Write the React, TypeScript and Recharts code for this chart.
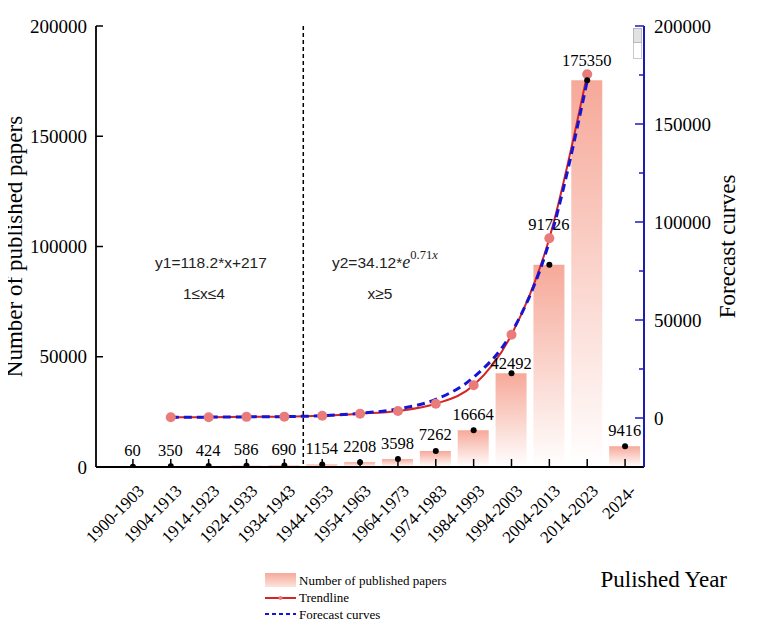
import React from 'react';
import { ComposedChart, Bar, Line, XAxis, YAxis, ReferenceLine, LabelList, Legend } from 'recharts';

const periods = ['1900-1903', '1904-1913', '1914-1923', '1924-1933', '1934-1943', '1944-1953', '1954-1963', '1964-1973', '1974-1983', '1984-1993', '1994-2003', '2004-2013', '2014-2023', '2024-'];
const papers = [60, 350, 424, 586, 690, 1154, 2208, 3598, 7262, 16664, 42492, 91726, 175350, 9416];
const trend = [null, 350, 424, 586, 690, 1154, 2208, 3598, 7262, 16664, 42492, 91726, 175350, null];
const forecast = [null, 340, 455, 575, 690, 1200, 2400, 4600, 9500, 20800, 43500, 90000, 172000, null];
const leftTicks = [0, 50000, 100000, 150000, 200000];
const rightTicks = [0, 25000, 50000, 75000, 100000, 125000, 150000, 175000, 200000];

// label lift (px above bar top) per category – style only
const labelLift = [16, 16, 16, 16, 16, 16, 16, 16, 16, 16, 10, 40, 20, 16];

const data = periods.map((p, i) => ({
  period: p,
  idx: i,
  papers: papers[i],
  trend: trend[i],
  forecast: forecast[i],
}));

const SERIF = '"Liberation Serif", "Times New Roman", Times, serif';
const SANS = '"Liberation Sans", Arial, sans-serif';
const BLUE = '#1C1CB4';
const serifStyle = (size: number): React.CSSProperties => ({ fontFamily: SERIF, fontSize: size });
const sansStyle = (size: number): React.CSSProperties => ({ fontFamily: SANS, fontSize: size });

const LeftTick = (props: any) => {
  const { x, y, payload } = props;
  return (
    <g>
      <line x1={x} x2={x + 7} y1={y} y2={y} stroke="#000" strokeWidth={1.5} />
      <text x={x - 9} y={y} textAnchor="end" dominantBaseline="central" style={serifStyle(19)} fill="#000">
        {payload.value}
      </text>
    </g>
  );
};

const RightTick = (props: any) => {
  const { x, y, payload } = props;
  const major = payload.value % 50000 === 0;
  return (
    <g>
      <line x1={x} x2={x - (major ? 9 : 5)} y1={y} y2={y} stroke={BLUE} strokeWidth={1.5} />
      {major && (
        <text x={x + 10} y={y} textAnchor="start" dominantBaseline="central" style={serifStyle(19)} fill="#000">
          {payload.value}
        </text>
      )}
    </g>
  );
};

const BottomTick = (props: any) => {
  const { x, y, payload } = props;
  const ax = x + 12;
  const ay = y + 25;
  return (
    <g>
      <line x1={x} x2={x} y1={y} y2={y - 8} stroke="#000" strokeWidth={1.5} />
      <text x={ax} y={ay} transform={`rotate(-45, ${ax}, ${ay})`} textAnchor="end" style={serifStyle(17)} fill="#000">
        {payload.value}
      </text>
    </g>
  );
};

const BarLabel = (props: any) => {
  const { x, y, width, value, index } = props;
  return (
    <text x={x + width / 2} y={y - labelLift[index]} textAnchor="middle" dominantBaseline="central" style={serifStyle(16.5)} fill="#000">
      {value}
    </text>
  );
};

const LegendContent = () => (
  <div style={{ fontFamily: SERIF, fontSize: 13, color: '#000', lineHeight: '17px' }}>
    <div style={{ display: 'flex', alignItems: 'center', height: 18 }}>
      <svg width={33} height={14} style={{ marginRight: 1 }}>
        <defs>
          <linearGradient id="legGrad" x1="0" y1="0" x2="0" y2="1">
            <stop offset="0" stopColor="#F6A999" />
            <stop offset="1" stopColor="#FDE3DC" />
          </linearGradient>
        </defs>
        <rect x={0} y={0} width={31} height={14} fill="url(#legGrad)" />
      </svg>
      <span>Number of published papers</span>
    </div>
    <div style={{ display: 'flex', alignItems: 'center', height: 17 }}>
      <svg width={33} height={10} style={{ marginRight: 1 }}>
        <line x1={0} x2={31} y1={5} y2={5} stroke="#D42424" strokeWidth={2} />
        <circle cx={15.5} cy={5} r={2} fill="#E97B7B" />
      </svg>
      <span>Trendline</span>
    </div>
    <div style={{ display: 'flex', alignItems: 'center', height: 16 }}>
      <svg width={33} height={10} style={{ marginRight: 1 }}>
        <line x1={0} x2={31} y1={5} y2={5} stroke="#1515D5" strokeWidth={2} strokeDasharray="4 3" />
      </svg>
      <span>Forecast curves</span>
    </div>
  </div>
);

export default function App() {
  return (
    <div style={{ position: 'relative', width: 761, height: 614, marginLeft: -8 }}>
      <ComposedChart width={761} height={614} data={data} margin={{ top: 18, right: 0, left: 0, bottom: 0 }}>
        <defs>
          <linearGradient id="barGrad" x1="0" y1="0" x2="0" y2="1">
            <stop offset="0" stopColor="#F6A999" />
            <stop offset="1" stopColor="#FFFFFF" />
          </linearGradient>
        </defs>
        <XAxis
          xAxisId="cat"
          dataKey="period"
          type="category"
          interval={0}
          height={155}
          padding={{ left: 18, right: 0 }}
          axisLine={{ stroke: '#000', strokeWidth: 1.8 }}
          tickLine={false}
          tickSize={0}
          tickMargin={0}
          tick={<BottomTick />}
          label={(p: any) => {
            const vb = p.viewBox;
            return (
              <text x={vb.x + vb.width + 83} y={579} textAnchor="end" style={serifStyle(23)} fill="#000">
                Pulished Year
              </text>
            );
          }}
        />
        <XAxis
          xAxisId="idx"
          dataKey="idx"
          type="number"
          orientation="top"
          domain={[-0.5, 13.5]}
          allowDataOverflow
          padding={{ left: 18, right: 0 }}
          height={0}
          tick={false}
          tickLine={false}
          axisLine={{ stroke: '#000', strokeWidth: 1.5 }}
        />
        <YAxis
          yAxisId="left"
          width={96}
          domain={[0, 200000]}
          ticks={leftTicks}
          interval={0}
          allowDataOverflow
          axisLine={{ stroke: '#000', strokeWidth: 1.8 }}
          tickLine={false}
          tickSize={0}
          tickMargin={0}
          tick={<LeftTick />}
          label={(p: any) => {
            const vb = p.viewBox;
            const cy = vb.y + vb.height / 2;
            return (
              <text transform={`translate(22, ${cy}) rotate(-90)`} x={0} y={0} textAnchor="middle" style={serifStyle(23)} fill="#000">
                Number of published papers
              </text>
            );
          }}
        />
        <YAxis
          yAxisId="right"
          orientation="right"
          width={117}
          domain={[-25000, 200000]}
          ticks={rightTicks}
          interval={0}
          allowDataOverflow
          axisLine={{ stroke: BLUE, strokeWidth: 2 }}
          tickLine={false}
          tickSize={0}
          tickMargin={0}
          tick={<RightTick />}
          label={(p: any) => {
            const vb = p.viewBox;
            const cy = vb.y + vb.height / 2;
            return (
              <text transform={`translate(735, ${cy}) rotate(-90)`} x={0} y={0} textAnchor="middle" style={serifStyle(23)} fill="#000">
                Forecast curves
              </text>
            );
          }}
        />
        <ReferenceLine xAxisId="idx" yAxisId="left" x={4.5} stroke="#000" strokeWidth={1.5} strokeDasharray="4 3" />
        <Bar xAxisId="cat" yAxisId="left" dataKey="papers" barSize={31} fill="url(#barGrad)" isAnimationActive={false} name="Number of published papers">
          <LabelList dataKey="papers" content={<BarLabel />} />
        </Bar>
        <Line
          xAxisId="cat"
          yAxisId="right"
          type="monotone"
          dataKey="trend"
          stroke="#D42424"
          strokeWidth={2}
          dot={{ r: 5, fill: '#E97B7B', stroke: 'none' }}
          activeDot={false}
          isAnimationActive={false}
          name="Trendline"
        />
        <Line
          xAxisId="cat"
          yAxisId="right"
          type="monotone"
          dataKey="forecast"
          stroke="#1515D5"
          strokeWidth={3}
          strokeDasharray="8 5"
          dot={false}
          activeDot={false}
          isAnimationActive={false}
          name="Forecast curves"
        />
        <Line
          xAxisId="cat"
          yAxisId="left"
          type="linear"
          dataKey="papers"
          stroke="none"
          dot={{ r: 3, fill: '#000', stroke: 'none' }}
          activeDot={false}
          isAnimationActive={false}
          legendType="none"
        />
        <text x={211} y={254} textAnchor="middle" dominantBaseline="central" style={sansStyle(15.5)} fill="#222">
          y1=118.2*x+217
        </text>
        <text x={204} y={285} textAnchor="middle" dominantBaseline="central" style={sansStyle(15.5)} fill="#222">
          1≤x≤4
        </text>
        <text x={332} y={254} textAnchor="start" dominantBaseline="central" style={sansStyle(15.5)} fill="#222">
          y2=34.12*
          <tspan style={{ fontFamily: SERIF, fontStyle: 'italic', fontSize: 18 }}>e</tspan>
          <tspan style={{ fontFamily: SERIF, fontSize: 12.5 }} dy={-7}>0.71</tspan>
          <tspan style={{ fontFamily: SERIF, fontStyle: 'italic', fontSize: 12.5 }}>x</tspan>
        </text>
        <text x={380} y={285} textAnchor="middle" dominantBaseline="central" style={sansStyle(15.5)} fill="#222">
          x≥5
        </text>
        <Legend
          layout="vertical"
          align="center"
          verticalAlign="middle"
          content={<LegendContent />}
          wrapperStyle={{ top: 563, left: 265, width: 220 }}
        />
      </ComposedChart>
      <div style={{ position: 'absolute', left: 633, top: 20, width: 9, height: 15, background: '#e2e2e2', border: '1px solid #b8b8b8', boxSizing: 'border-box' }} />
      <div style={{ position: 'absolute', left: 633, top: 35, width: 9, height: 16, background: '#fff', border: '1px solid #c8c8c8', borderTop: 'none', boxSizing: 'border-box' }} />
    </div>
  );
}
